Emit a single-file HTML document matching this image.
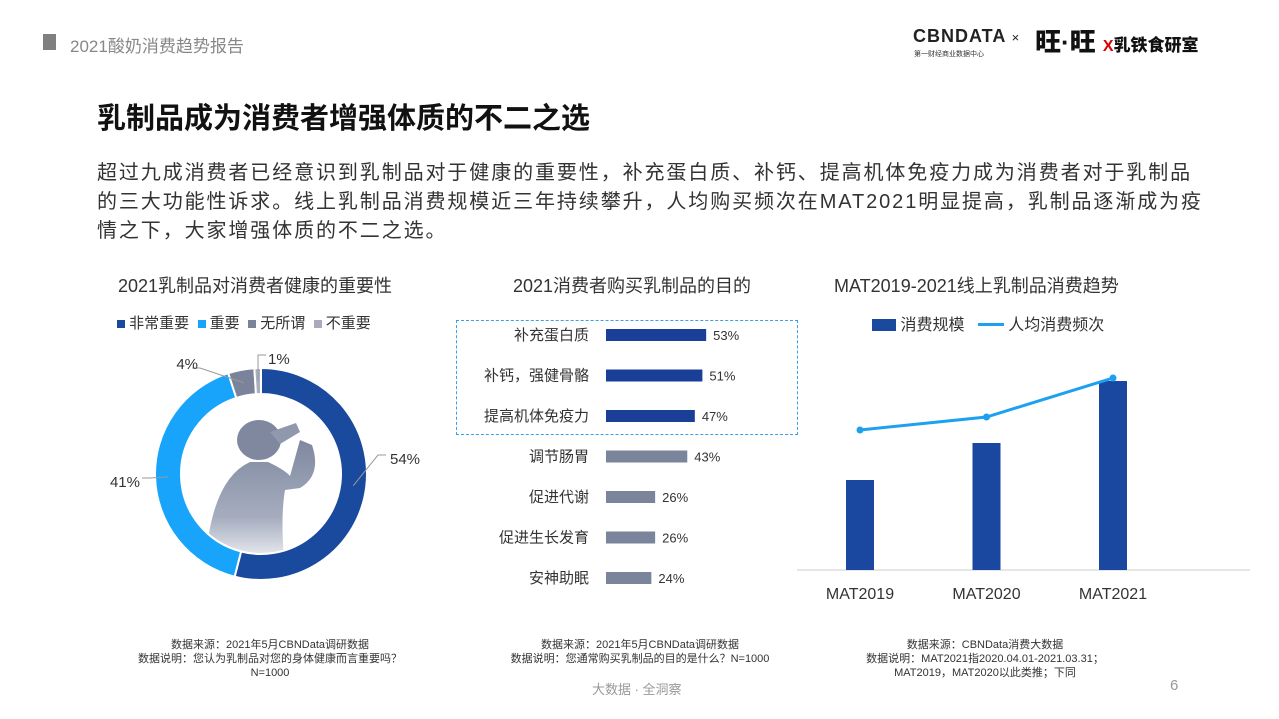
<!DOCTYPE html>
<html><head><meta charset="utf-8"><style>
body{margin:0;width:1279px;height:719px;background:#fff;font-family:"Liberation Sans","Noto Sans CJK SC",sans-serif;overflow:hidden;position:relative;color:#333}
.a{position:absolute;white-space:nowrap}
</style></head><body>
<div class="a" style="left:43px;top:34px;width:13px;height:16px;background:#808080"></div>
<div class="a" style="left:70px;top:32px;font-size:17px;color:#888">2021酸奶消费趋势报告</div>
<div class="a" style="left:913px;top:26px;font-size:18px;font-weight:bold;color:#222;letter-spacing:1px">CBNDATA <span style="font-size:13px;font-weight:normal">×</span></div>
<div class="a" style="left:914px;top:49px;font-size:7px;color:#333">第一财经商业数据中心</div>
<div class="a" style="left:1035px;top:22px;font-size:26px;font-weight:900;color:#111">旺·旺 <span style="font-size:16px;color:#d00">X</span><span style="font-size:17px">乳铁食研室</span></div>
<div class="a" style="left:97px;top:95px;font-size:29px;font-weight:bold;color:#111">乳制品成为消费者增强体质的不二之选</div>
<div class="a" style="left:97px;top:159px;width:1150px;white-space:normal;font-size:20px;letter-spacing:1.9px;line-height:29px;color:#333">超过九成消费者已经意识到乳制品对于健康的重要性，补充蛋白质、补钙、提高机体免疫力成为消费者对于乳制品<br>的三大功能性诉求。线上乳制品消费规模近三年持续攀升，人均购买频次在MAT2021明显提高，乳制品逐渐成为疫<br>情之下，大家增强体质的不二之选。</div>

<div class="a" style="left:118px;top:272px;font-size:18px">2021乳制品对消费者健康的重要性</div>
<div class="a" style="left:117px;top:312px;font-size:15px">
<span style="display:inline-block;width:8px;height:8px;background:#1a4a9e"></span> 非常重要 &nbsp;<span style="display:inline-block;width:8px;height:8px;background:#18a4fb"></span> 重要 &nbsp;<span style="display:inline-block;width:8px;height:8px;background:#7a8399"></span> 无所谓 &nbsp;<span style="display:inline-block;width:8px;height:8px;background:#aab"></span> 不重要</div>

<div class="a" style="left:513px;top:272px;font-size:18px">2021消费者购买乳制品的目的</div>
<div class="a" style="left:456px;top:320px;width:340px;height:113px;border:1.5px dashed #3aa0e8"></div>

<div class="a" style="left:834px;top:272px;font-size:18px">MAT2019-2021线上乳制品消费趋势</div>
<div class="a" style="left:872px;top:311px;font-size:16px"><span style="display:inline-block;width:24px;height:12px;background:#1a4a9e;vertical-align:-1px"></span> 消费规模 &nbsp;&nbsp;<span style="display:inline-block;width:26px;height:3px;background:#1ea0f0;vertical-align:4px;position:relative"></span> 人均消费频次</div>

<svg class="a" style="left:0;top:0" width="1279" height="719" id="svg">
<defs><linearGradient id="sg" x1="0" y1="0" x2="0" y2="1"><stop offset="0" stop-color="#7f889f"/><stop offset="0.6" stop-color="#a6adbf"/><stop offset="1" stop-color="#fff"/></linearGradient>
<clipPath id="cc"><circle cx="261" cy="474" r="79"/></clipPath></defs>
<g clip-path="url(#cc)">
<ellipse cx="259" cy="440" rx="22" ry="20" fill="#7f889f"/>
<path d="M270 432 L296 423 L300 432 L280 444 Z" fill="#8f98ad"/>
<path d="M205 570 Q210 480 250 462 L268 462 Q285 470 290 476 L300 440 L312 445 Q322 475 300 488 L285 490 Q280 520 285 570 Z" fill="url(#sg)"/>
</g>
</svg>

<div class="a" style="left:120px;top:638px;width:300px;text-align:center;font-size:11px;line-height:14px;white-space:normal">数据来源：2021年5月CBNData调研数据<br>数据说明：您认为乳制品对您的身体健康而言重要吗？<br>N=1000</div>
<div class="a" style="left:480px;top:638px;width:320px;text-align:center;font-size:11px;line-height:14px">数据来源：2021年5月CBNData调研数据<br>数据说明：您通常购买乳制品的目的是什么？N=1000</div>
<div class="a" style="left:840px;top:638px;width:290px;text-align:center;font-size:11px;line-height:14px;white-space:normal">数据来源：CBNData消费大数据<br>数据说明：MAT2021指2020.04.01-2021.03.31；<br>MAT2019，MAT2020以此类推；下同</div>
<div class="a" style="left:592px;top:679px;font-size:13px;color:#999">大数据 · 全洞察</div>
<div class="a" style="left:1170px;top:677px;font-size:15px;color:#999">6</div>

<script>
const donutLabels=["非常重要","重要","无所谓","不重要"];
const donutValues=[54,41,4,1];
const barCats=["补充蛋白质","补钙，强健骨骼","提高机体免疫力","调节肠胃","促进代谢","促进生长发育","安神助眠"];
const barValues=[53,51,47,43,26,26,24];
const years=["MAT2019","MAT2020","MAT2021"];
const scaleValues=[90,127,189];
const freqValues=[1.0,1.1,1.4];
const NS="http://www.w3.org/2000/svg";
const svg=document.getElementById('svg');
function mk(t,a,txt){const e=document.createElementNS(NS,t);for(const k in a)e.setAttribute(k,a[k]);if(txt!=null)e.textContent=txt;svg.appendChild(e);return e;}
const cx=261,cy=474,R=106,r=80,cols=["#1a4a9e","#18a4fb","#7a8399","#aab0bd"];
const elbow=[[378,455],[150,478],[200,368],[258,355]];
const tpos=[[390,464,"start"],[140,487,"end"],[198,369,"end"],[268,364,"start"]];
const tot=donutValues.reduce((a,b)=>a+b,0);let ang=0;
donutValues.forEach((v,i)=>{const a0=ang/tot*2*Math.PI,a1=(ang+v)/tot*2*Math.PI;ang+=v;
const p=(a,rad)=>[cx+rad*Math.sin(a),cy-rad*Math.cos(a)];
const [x0,y0]=p(a0,R),[x1,y1]=p(a1,R),[x2,y2]=p(a1,r),[x3,y3]=p(a0,r);const lg=(a1-a0)>Math.PI?1:0;
const e=mk('path',{d:`M${x0} ${y0}A${R} ${R} 0 ${lg} 1 ${x1} ${y1}L${x2} ${y2}A${r} ${r} 0 ${lg} 0 ${x3} ${y3}Z`,fill:cols[i],stroke:"#fff","stroke-width":2});


const am=(a0+a1)/2,[sx,sy]=p(am,R-13);
const [ex,ey]=elbow[i];
mk('polyline',{points:`${sx},${sy} ${ex},${ey} ${ex+(tpos[i][2]=="start"?8:-8)},${ey}`,fill:"none",stroke:"#999"});
const t=mk('text',{x:tpos[i][0],y:tpos[i][1],"font-size":15,fill:"#333","text-anchor":tpos[i][2]},v+"%");

});
const bx=606,pxPer=1.89;
barValues.forEach((v,i)=>{const y=335+i*40.5;const w=v*pxPer;
const b=mk('rect',{x:bx,y:y-6,width:w,height:12,fill:i<3?"#1a3f98":"#7a849b"});


const c=mk('text',{x:bx-17,y:y+5,"font-size":15,"text-anchor":"end",fill:"#333"},barCats[i]);


const l=mk('text',{x:bx+w+7,y:y+5,"font-size":13,fill:"#333"},v+"%");

});
const base=570,xs=i=>860+i*126.5,yF=v=>430-(v-1.0)*130;
const ax=mk('line',{x1:797,y1:base,x2:1250,y2:base,stroke:"#ccc"});
scaleValues.forEach((v,i)=>{const b=mk('rect',{x:xs(i)-14,y:base-v,width:28,height:v,fill:"#1a47a0"});


const t=mk('text',{x:xs(i),y:599,"font-size":16,"text-anchor":"middle",fill:"#333"},years[i]);

});
const ln=mk('polyline',{points:freqValues.map((v,i)=>xs(i)+","+yF(v)).join(" "),fill:"none",stroke:"#1ea0f0","stroke-width":3});

freqValues.forEach((v,i)=>{const c=mk('circle',{cx:xs(i),cy:yF(v),r:3.5,fill:"#1ea0f0"});

});
</script>
</body></html>
